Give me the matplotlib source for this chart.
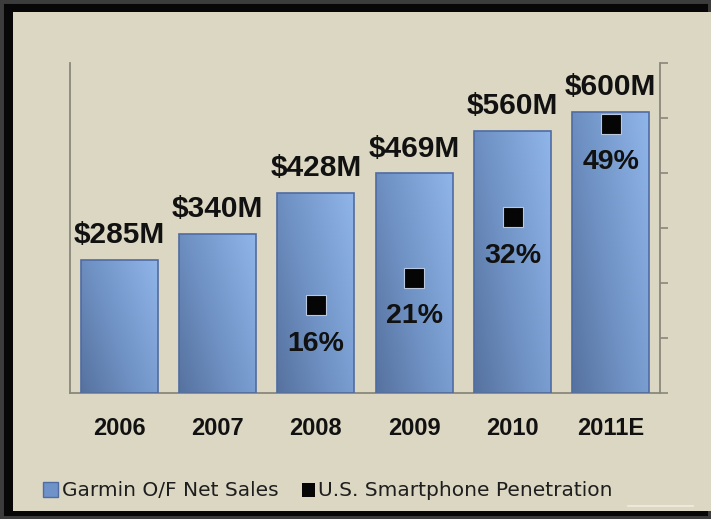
import numpy as np
import matplotlib
matplotlib.use("Agg")
import matplotlib.pyplot as plt
from matplotlib.colors import LinearSegmentedColormap
from matplotlib.patches import Rectangle
from matplotlib.lines import Line2D

# Data
years = ["2006", "2007", "2008", "2009", "2010", "2011E"]
sales = [285, 340, 428, 469, 560, 600]            # Garmin O/F net sales, $M
sales_labels = ["$285M", "$340M", "$428M", "$469M", "$560M", "$600M"]
pen_years = ["2008", "2009", "2010", "2011E"]
penetration = [16, 21, 32, 49]                    # U.S. smartphone penetration, %
pen_labels = ["16%", "21%", "32%", "49%"]

W, H = 711, 519
fig = plt.figure(figsize=(W / 100, H / 100), dpi=100, facecolor="#070707")

# Outer frame and beige panel
fig.patches.append(Rectangle((0, 0), 1, 1, transform=fig.transFigure,
                             facecolor="none", edgecolor="#3c3c3c", linewidth=5,
                             zorder=-3))
fig.patches.append(Rectangle((13 / W, (H - 511) / H), (W - 13) / W, 499 / H,
                             transform=fig.transFigure, facecolor="#dcd7c2",
                             edgecolor="none", zorder=-2))
fig.lines.append(Line2D([628 / W, 693 / W], [(H - 506) / H] * 2,
                        transform=fig.transFigure, color="#f0ede0", linewidth=1.2,
                        zorder=-1))

ax = fig.add_axes([70 / W, (H - 393) / H, 590 / W, 330 / H])
ax.set_facecolor("none")
x = np.arange(len(years))

bars = ax.bar(x, sales, width=0.78, facecolor="none", edgecolor="#4f6ca3",
              linewidth=1.2, zorder=3)

cmap = LinearSegmentedColormap.from_list(
    "barfill", ["#56729f", "#7396c9", "#90b5e8"])
xx, yy = np.meshgrid(np.linspace(0, 1, 80), np.linspace(0, 1, 80))
grad = np.clip(0.62 * xx + 0.38 * yy, 0, 1)
for b in bars:
    x0, w, h = b.get_x(), b.get_width(), b.get_height()
    im = ax.imshow(grad, extent=(x0, x0 + w, 0, h), origin="lower", cmap=cmap,
                   aspect="auto", interpolation="bicubic", zorder=2)
    im.set_clip_path(b)
ax.set_xlim(-0.5, len(years) - 0.5)
ax.set_ylim(0, 705)

num_font = dict(family=["Liberation Sans", "DejaVu Sans"], weight="bold", color="#111111")
for xi, v, lab in zip(x, sales, sales_labels):
    ax.annotate(lab, (xi, v), xytext=(0, 12), textcoords="offset points",
                ha="center", va="baseline", fontsize=21.5, **num_font)

ax.set_xticks(x)
ax.set_xticklabels(years, fontsize=17, **num_font)
ax.tick_params(axis="x", length=0, pad=17)
ax.set_yticks([])
for s in ["top", "right"]:
    ax.spines[s].set_visible(False)
for s in ["left", "bottom"]:
    ax.spines[s].set_color("#8a877c")
    ax.spines[s].set_linewidth(1.3)

# Secondary axis for penetration
ax2 = ax.twinx()
ax2.set_ylim(0, 60)
ax2.set_yticks(np.arange(0, 61, 10))
ax2.set_yticklabels([])
ax2.tick_params(axis="y", direction="out", length=6, width=1.2, color="#8a877c")
for s in ["top", "left", "bottom"]:
    ax2.spines[s].set_visible(False)
ax2.spines["right"].set_color("#8a877c")
ax2.spines["right"].set_linewidth(1.3)

px = [years.index(y) for y in pen_years]
ax2.plot(px, penetration, linestyle="none", marker="s", markersize=15,
         markerfacecolor="#050505", markeredgecolor="#b9c8de", markeredgewidth=0.8,
         zorder=5)
for xi, v, lab in zip(px, penetration, pen_labels):
    ax2.annotate(lab, (xi, v), xytext=(0, -33), textcoords="offset points",
                 ha="center", va="baseline", fontsize=20.5, **num_font)

# Legend drawn in figure pixels
def fx(p):
    return p / W

def fy(p):
    return (H - p) / H

fig.patches.append(Rectangle((fx(43), fy(497)), 15 / W, 15 / H, transform=fig.transFigure,
                             facecolor="#6f92c8", edgecolor="#4f6ca3", linewidth=1, zorder=3))
fig.text(fx(62), fy(490), "Garmin O/F Net Sales", fontsize=14.5, color="#1e1e1e",
         family="DejaVu Sans", va="center", ha="left")
fig.patches.append(Rectangle((fx(302), fy(497)), 13 / W, 14 / H, transform=fig.transFigure,
                             facecolor="#050505", edgecolor="none", zorder=3))
fig.text(fx(318), fy(490), "U.S. Smartphone Penetration", fontsize=14.5, color="#1e1e1e",
         family="DejaVu Sans", va="center", ha="left")

fig.savefig("out.png", dpi=100, facecolor=fig.get_facecolor())
